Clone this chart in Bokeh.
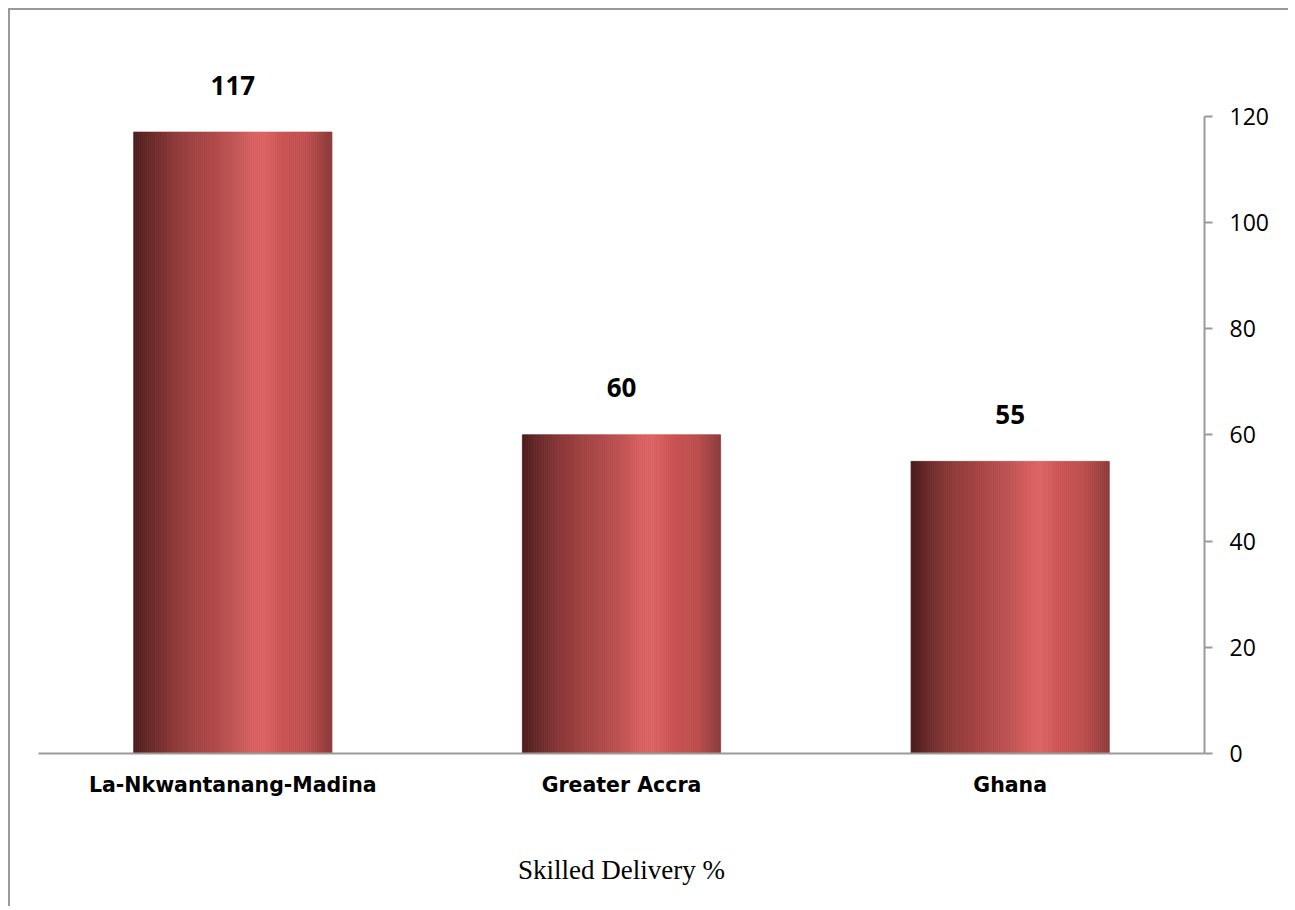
from bokeh.plotting import figure
from bokeh.models import Range1d, FixedTicker, ColumnDataSource
from bokeh.core.properties import value
from bokeh.embed import file_html
from bokeh.resources import INLINE

categories = ["La-Nkwantanang-Madina", "Greater Accra", "Ghana"]
values = [117, 60, 55]
y_ticks = [0, 20, 40, 60, 80, 100, 120]
axis_title = "Skilled Delivery %"

# gradient stops (style)
stops = [(0.00, (0x4b, 0x1c, 0x1c)), (0.08, (0x68, 0x29, 0x29)), (0.20, (0x8d, 0x39, 0x39)),
         (0.35, (0xa8, 0x45, 0x45)), (0.50, (0xbf, 0x53, 0x53)), (0.60, (0xd8, 0x60, 0x60)),
         (0.66, (0xdb, 0x63, 0x63)), (0.75, (0xcc, 0x54, 0x54)), (0.88, (0xbd, 0x4e, 0x4e)),
         (1.00, (0x8c, 0x3b, 0x3b))]

def grad(t):
    for (t0, c0), (t1, c1) in zip(stops[:-1], stops[1:]):
        if t0 <= t <= t1:
            f = (t - t0) / (t1 - t0) if t1 > t0 else 0
            c = [round(a + (b - a) * f) for a, b in zip(c0, c1)]
            return "#%02x%02x%02x" % tuple(c)
    return "#%02x%02x%02x" % stops[-1][1]

p = figure(width=1280, height=898, output_backend="svg", toolbar_location=None,
           x_range=Range1d(0, len(categories)), y_range=Range1d(0, 135),
           y_axis_location="right", min_border_left=28, min_border_top=26,
           min_border_right=86, min_border_bottom=155)
p.margin = (8, 0, 0, 8)
p.styles = {"border-left": "2px solid #9a9a9a", "border-top": "2px solid #9a9a9a"}
p.grid.visible = False
p.outline_line_color = None
p.background_fill_color = "white"
p.border_fill_color = "white"

bar_w = 0.51
N = 100
L, R, T, C = [], [], [], []
for i, v in enumerate(values):
    x0 = i + 0.5 - bar_w / 2
    for k in range(N):
        L.append(x0 + bar_w * k / N)
        R.append(x0 + bar_w * (k + 1) / N)
        T.append(v)
        C.append(grad((k + 0.5) / N))
src = ColumnDataSource(dict(left=L, right=R, top=T, color=C))
p.quad(left="left", right="right", bottom=0, top="top", fill_color="color",
       line_color="color", line_width=0.8, source=src)

lab = ColumnDataSource(dict(x=[i + 0.5 for i in range(len(values))], y=values,
                            t=[str(v) for v in values]))
p.text(x="x", y="y", text="t", source=lab, y_offset=-47, text_align="center",
       text_baseline="middle", text_font=value("Open Sans"), text_font_style="bold",
       text_font_size="26px", text_color="black")

# x axis
xa = p.xaxis[0]
xa.ticker = FixedTicker(ticks=[i + 0.5 for i in range(len(categories))])
xa.major_label_overrides = {i + 0.5: c for i, c in enumerate(categories)}
xa.major_tick_line_color = None
xa.minor_tick_line_color = None
xa.axis_line_color = "#9a9a9a"
xa.axis_line_width = 2
xa.major_label_text_font = "DejaVu Sans"
xa.major_label_text_font_style = "bold"
xa.major_label_text_font_size = "20.5px"
xa.major_label_text_color = "black"
xa.major_label_standoff = 13
xa.axis_label = axis_title
xa.axis_label_text_font = "Liberation Serif"
xa.axis_label_text_font_style = "normal"
xa.axis_label_text_font_size = "27px"
xa.axis_label_text_color = "black"
xa.axis_label_standoff = 55

# y axis (right)
ya = p.yaxis[0]
ya.ticker = FixedTicker(ticks=y_ticks)
ya.bounds = (0, 120)
ya.axis_line_color = "#9a9a9a"
ya.axis_line_width = 2
ya.major_tick_line_color = "#9a9a9a"
ya.major_tick_line_width = 2
ya.major_tick_out = 8
ya.major_tick_in = 0
ya.minor_tick_line_color = None
ya.major_label_text_font = "Open Sans"
ya.major_label_text_font_size = "23px"
ya.major_label_text_color = "black"
ya.major_label_standoff = 17

open("out.html", "w").write(file_html(p, INLINE))
